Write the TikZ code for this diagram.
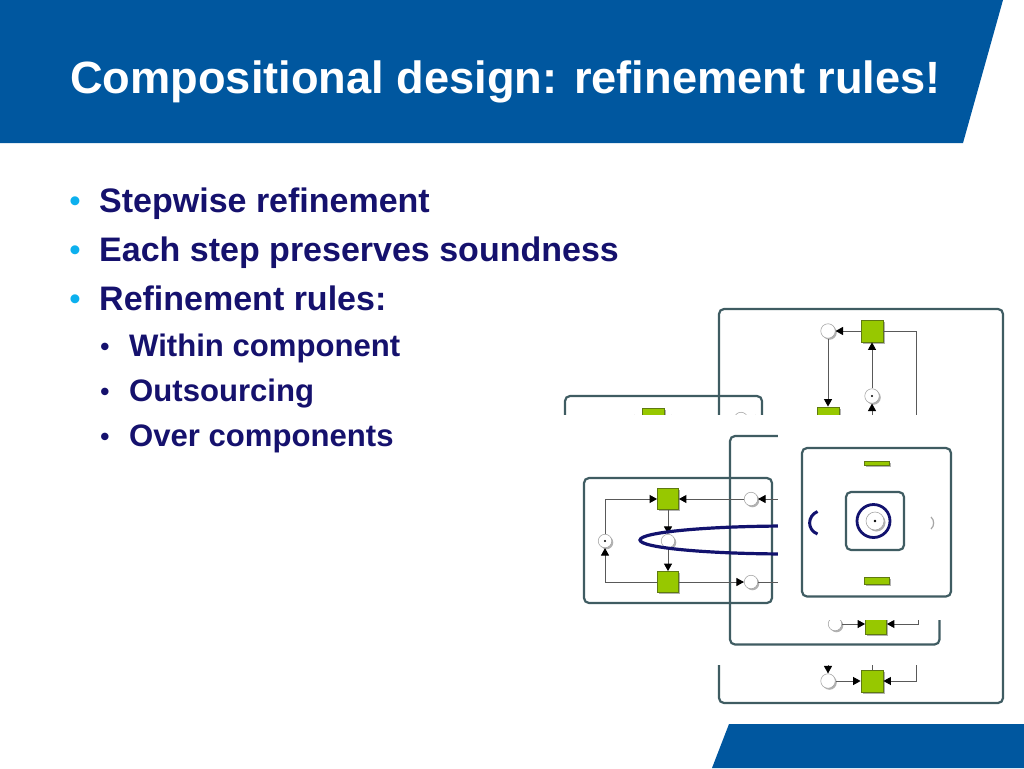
\documentclass[tikz,border=0pt]{standalone}
\usepackage{fontspec}
\setmainfont{Liberation Sans}
\usetikzlibrary{arrows.meta,shadows}
\definecolor{banner}{HTML}{00579F}
\definecolor{navytext}{HTML}{15116D}
\definecolor{cyanbullet}{HTML}{0CB0EE}
\definecolor{boxline}{HTML}{3F5C62}
\definecolor{transfill}{HTML}{97C800}
\definecolor{transline}{HTML}{5F7A10}
\definecolor{ringblue}{HTML}{12126E}
\tikzset{
  softshadow/.style={general shadow={shadow xshift=1.5pt,shadow yshift=-1.5pt,fill=black!30}},
  titletext/.style={anchor=base west,inner sep=0,text=white,font=\bfseries\fontsize{45.2}{54}\selectfont},
  itemtext/.style={anchor=base west,inner sep=0,text=navytext,font=\bfseries\fontsize{34}{40}\selectfont},
  subtext/.style={anchor=base west,inner sep=0,text=navytext,font=\bfseries\fontsize{31.1}{36}\selectfont},
  itembullet/.style={anchor=base,inner sep=0,text=cyanbullet,font=\bfseries\fontsize{31}{40}\selectfont},
  subbullet/.style={anchor=base,inner sep=0,text=navytext,font=\bfseries\fontsize{26}{36}\selectfont},
  framebox/.style={draw=boxline,line width=2.2pt,rounded corners=5pt},
  place/.style={circle,draw=black!35,fill=white,line width=0.6pt,minimum size=13.5pt,inner sep=0,softshadow},
  bigplace/.style={place,minimum size=14.5pt},
  trans/.style={rectangle,draw=transline,fill=transfill,line width=0.8pt,minimum size=21pt,inner sep=0,softshadow},
  bigtrans/.style={trans,minimum size=22pt},
  arc/.style={draw=black!65,line width=0.9pt,-{Triangle[length=7.5pt,width=8pt,fill=black,color=black]}},
  plainarc/.style={draw=black!65,line width=0.9pt},
  token/.style={fill=black},
  cover/.style={fill=white,draw=none},
}
\begin{document}
\begin{tikzpicture}[x=1pt,y=-1pt]
\useasboundingbox (0,0) rectangle (1024,768);
% slide graphics
\fill[banner] (0,0) -- (1003,0) -- (963,143) -- (0,143) -- cycle;
\fill[banner] (729,724) -- (1024,724) -- (1024,768) -- (712,768) -- cycle;
\node[titletext] (title) at (70,93) {Compositional design: refinement rules!};
\node[itembullet] (b1) at (75,211.5) {•};
\node[itemtext] (t1) at (99,212) {Stepwise refinement};
\node[itembullet] (b2) at (75,260.5) {•};
\node[itemtext] (t2) at (99,261) {Each step preserves soundness};
\node[itembullet] (b3) at (75,309.5) {•};
\node[itemtext] (t3) at (99,310) {Refinement rules:};
\node[subbullet] (s1) at (105,355) {•};
\node[subtext] (u1) at (129,356) {Within component};
\node[subbullet] (s2) at (105,400) {•};
\node[subtext] (u2) at (129,401) {Outsourcing};
\node[subbullet] (s3) at (105,445) {•};
\node[subtext] (u3) at (129,446) {Over components};
% back frames
\draw[framebox] (565,396) rectangle (762,500);
\draw[framebox] (719,309) rectangle (1003,703);
% back-box net
\coordinate (bl) at (600,419);
\coordinate (br) at (770,419);
\node[trans,minimum size=22pt] (bt) at (653,419) {};
\node[place] (bp) at (741,419) {};
\draw[arc] (bl) -- (bt);
\draw[arc] (bp) -- (bt);
\draw[arc] (br) -- (bp);
% outer net
\node[bigplace] (op1) at (828,331) {};
\node[bigtrans] (ot1) at (872,331) {};
\node[bigplace] (op2) at (872,396) {};
\node[bigtrans] (ot2) at (828,418) {};
\node[bigplace] (op3) at (828,681) {};
\node[bigtrans] (ot3) at (872,681) {};
\fill[token] (op2.center) circle (1.2);
\draw[arc] (ot1) -- (op1);
\draw[arc] (op1) -- (ot2);
\draw[arc] (op2) -- (ot1);
\draw[arc] (ot3) -- (op2);
\draw[arc] (ot2) -- (op3);
\draw[arc] (op3) -- (ot3);
\draw[arc] (ot1.east) -| (916,500) |- (ot3.east);
% first white cover
\fill[cover] (540,415) rectangle (998,665);
% middle frames
\draw[framebox] (730,436) rectangle (939.5,644.5);
\draw[framebox] (584,478) rectangle (772,603);
% left net
\node[trans] (lt1) at (668,499) {};
\node[trans] (lt2) at (668,582) {};
\node[place] (lp1) at (605,541) {};
\node[place] (lp2) at (668,541) {};
\node[place] (lp3) at (751,499) {};
\node[place] (lp4) at (751,582) {};
\fill[token] (lp1.center) circle (1.2);
\coordinate (lr1) at (790,499);
\coordinate (lr2) at (790,582);
\draw[arc] (lp1) |- (lt1);
\draw[arc] (lt1) -- (lp2);
\draw[arc] (lp2) -- (lt2);
\draw[arc] (lt2) -| (lp1);
\draw[arc] (lp3) -- (lt1);
\draw[arc] (lr1) -- (lp3);
\draw[arc] (lt2) -- (lp4);
\draw[plainarc] (lp4) -- (lr2);
% middle-frame net
\node[place] (mp) at (835,624) {};
\node[trans,minimum width=21pt,minimum height=20pt] (mt) at (876,624) {};
\coordinate (mr) at (918,600);
\draw[arc] (mp) -- (mt);
\draw[arc] (mr) |- (mt);
% blue oval
\draw[ringblue,line width=3.2pt] (790,540) ellipse [x radius=150,y radius=14];
% second white cover
\fill[cover] (778,420) rectangle (945,620);
% front frame
\draw[framebox] (802,448) rectangle (951,596.5);
\node[trans,minimum width=25pt,minimum height=4pt] (ft) at (876.5,463) {};
\node[trans,minimum width=25pt,minimum height=7pt] (fb) at (876.5,580.5) {};
\draw[ringblue,line width=3pt] (817.5,511.5) .. controls (807,516) and (807,530) .. (817.5,534);
\draw[black!35,line width=1.2pt] (931,517) .. controls (934.5,520) and (934.5,526) .. (931,529);
\draw[framebox] (846,492) rectangle (904,550);
\node[place,minimum size=18pt] (fp) at (875,521) {};
\fill[token] (fp.center) circle (1.3);
\node[circle,draw=ringblue,line width=2.8pt,minimum size=33pt,inner sep=0] (fr) at (873.5,521) {};
\end{tikzpicture}
\end{document}
